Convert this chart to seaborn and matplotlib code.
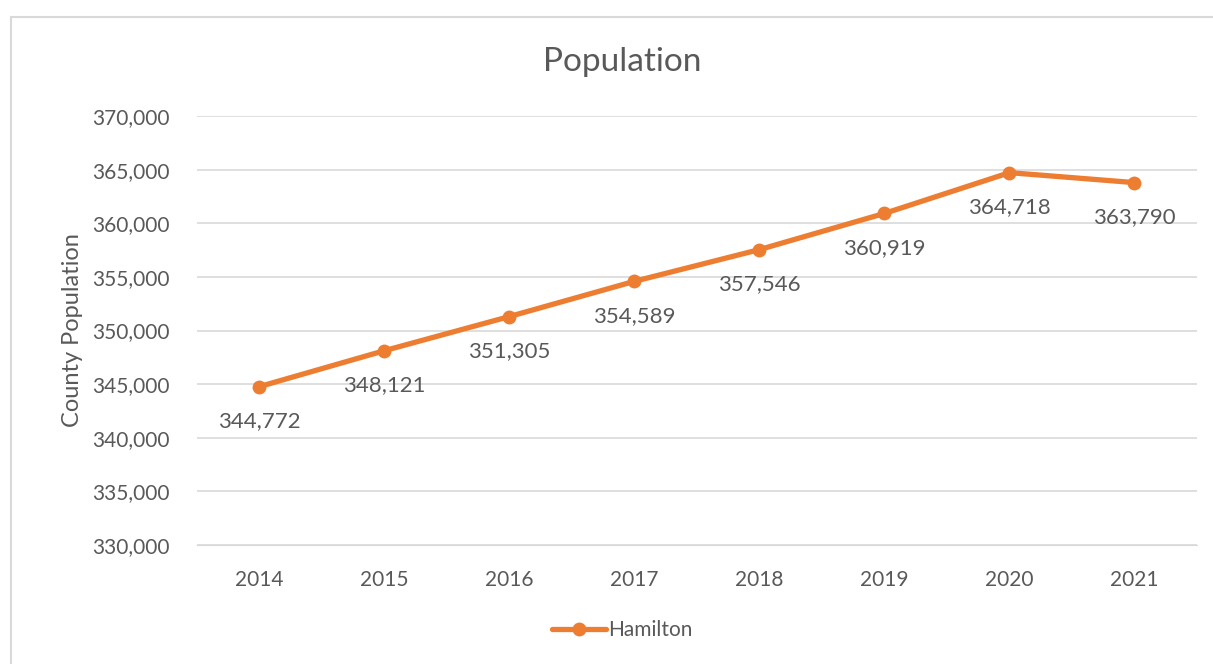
import seaborn as sns
import matplotlib.pyplot as plt
import pandas as pd
from matplotlib.patches import Rectangle

years = ['2014', '2015', '2016', '2017', '2018', '2019', '2020', '2021']
population = [344772, 348121, 351305, 354589, 357546, 360919, 364718, 363790]
county = 'Hamilton'

df = pd.DataFrame({'Year': years, 'Population': population, 'County': county})

sns.set_style('white')
plt.rcParams['font.family'] = ['Lato', 'DejaVu Sans']
text_col = '#595959'
orange = '#ED7D31'

fig = plt.figure(figsize=(12.13, 6.64), dpi=100)
ax = fig.add_axes([0.1624, 0.1792, 0.8244, 0.6461])

# chart border (cropped on the right/bottom like the reference)
fig.patches.append(Rectangle((11 / 1213, -0.05), 1.2, 1 - 17 / 664 + 0.05,
                             transform=fig.transFigure, fill=False,
                             edgecolor='#D9D9D9', linewidth=1.5))

sns.lineplot(data=df, x='Year', y='Population', hue='County', palette=[orange],
             marker='o', markersize=10, markeredgewidth=0, linewidth=3.8,
             sort=False, ax=ax)

for x, y in zip(range(len(years)), population):
    ax.annotate(f'{y:,}', (x, y), xytext=(0, -25), textcoords='offset points',
                ha='center', va='center', fontsize=16, color=text_col)

ax.set_xlim(-0.5, len(years) - 0.5)
ax.set_ylim(330000, 370000)
ax.set_yticks(range(330000, 370001, 5000))
ax.set_yticklabels([f'{v:,}' for v in range(330000, 370001, 5000)])
ax.yaxis.grid(True, color='#D9D9D9', linewidth=1.2)
ax.xaxis.grid(False)
for s in ax.spines.values():
    s.set_visible(False)
ax.spines['bottom'].set_visible(True)
ax.spines['bottom'].set_color('#D9D9D9')
ax.tick_params(axis='both', length=0, labelsize=15, labelcolor=text_col)
ax.tick_params(axis='y', pad=20)
ax.tick_params(axis='x', pad=18)
ax.set_xlabel('')
ax.set_ylabel('County Population', fontsize=17, color=text_col, labelpad=6)

fig.text(622 / 1213, 1 - 62 / 664, 'Population', fontsize=24, color=text_col,
         ha='center', va='center')

ax.legend(loc='center', bbox_to_anchor=(622 / 1213, 1 - 630 / 664),
          bbox_transform=fig.transFigure, frameon=False,
          fontsize=15, labelcolor=text_col, handlelength=2.6, handletextpad=0.1)

fig.savefig('out.png', dpi=100)
